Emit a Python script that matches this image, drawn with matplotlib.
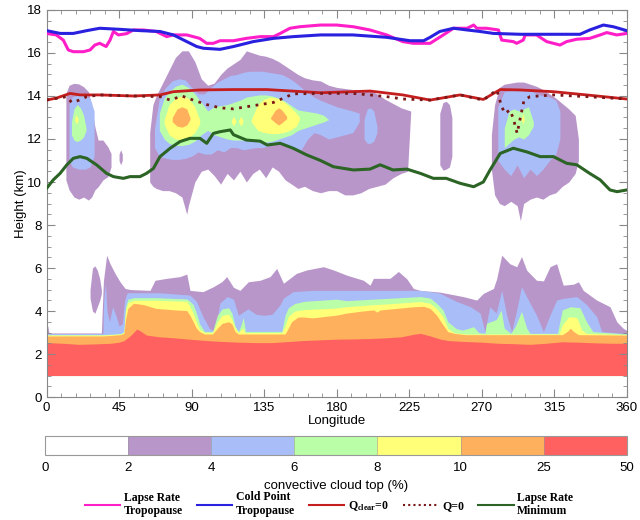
import matplotlib

matplotlib.use("Agg")

import matplotlib as mpl
import matplotlib.pyplot as plt
from matplotlib.colors import BoundaryNorm, ListedColormap
from matplotlib.font_manager import FontProperties
from matplotlib.lines import Line2D
from matplotlib.ticker import MultipleLocator

plt.rcParams["font.family"] = ["Liberation Sans", "DejaVu Sans"]
plt.rcParams["mathtext.fontset"] = "custom"
plt.rcParams["mathtext.rm"] = "Liberation Serif:bold"
plt.rcParams["mathtext.it"] = "Liberation Serif:bold"

# ---- colour classes of convective cloud-top frequency (%) ----
cloud_levels = [0, 2, 4, 6, 8, 10, 25, 50]
cloud_colors = ["#ffffff", "#b996c9", "#a9bef9", "#baffa8", "#ffff78", "#ffb05c", "#ff6060"]
cloud_base_km = 1.0

# ---- shallow / congestus layer: top height of each class (km) ----
red_lon = [0, 10, 20, 30, 40, 45, 48, 52, 56, 58, 62, 70, 78, 90, 100, 110, 120, 130, 140, 150,
           160, 170, 180, 190, 200, 210, 220, 228, 232, 238, 245, 250, 260, 270, 280, 290, 300,
           310, 320, 330, 340, 350, 360]
red_top = [2.53, 2.5, 2.45, 2.47, 2.5, 2.55, 2.62, 2.85, 3.16, 3.08, 2.88, 2.8, 2.76, 2.68, 2.62,
           2.58, 2.55, 2.53, 2.53, 2.58, 2.63, 2.66, 2.69, 2.7, 2.72, 2.75, 2.8, 2.92, 2.96, 2.84,
           2.68, 2.62, 2.58, 2.55, 2.5, 2.48, 2.45, 2.5, 2.57, 2.55, 2.52, 2.5, 2.5]

orange_lon = [0, 35, 46, 48, 49, 50.5, 54, 60, 68, 80, 87, 89, 91, 93, 95, 98, 103, 106, 109, 113,
              115, 117, 119, 148, 150, 152, 156, 160, 165, 172, 180, 186, 196, 203, 205, 207, 217,
              228, 234, 238, 242, 246, 249, 253, 260, 320, 323, 325, 327, 330, 360]
orange_top = [2.84, 2.84, 2.9, 2.96, 3.6, 4.12, 4.36, 4.3, 4.12, 4.05, 4.02, 3.8, 3.5, 3.2, 3.04,
              2.93, 2.93, 3.2, 3.43, 3.5, 3.4, 3.04, 2.93, 2.93, 3.2, 3.5, 3.72, 3.72, 3.68, 3.74,
              3.81, 3.9, 4.0, 4.05, 3.95, 4.05, 4.12, 4.2, 4.22, 4.12, 3.81, 3.35, 3.04, 2.96, 2.9,
              2.9, 3.05, 3.2, 3.05, 2.9, 2.88]

yellow_lon = [0, 35, 46, 48, 49, 50.5, 54, 68, 87, 89, 91, 93, 95, 98, 103, 106, 109, 113, 115, 117,
              119, 121, 122, 123, 146, 148, 150, 154, 160, 170, 180, 186, 200, 217, 232, 238, 242,
              246, 249, 253, 260, 318, 320, 324, 329, 332, 335, 360]
yellow_top = [2.88, 2.88, 2.93, 3.0, 4.0, 4.4, 4.5, 4.5, 4.45, 4.2, 3.9, 3.5, 3.15, 3.0, 3.0, 3.5,
              3.8, 3.85, 3.6, 3.2, 3.0, 3.15, 3.2, 3.0, 3.0, 3.3, 3.75, 4.0, 4.07, 4.1, 4.14, 4.2,
              4.28, 4.36, 4.44, 4.36, 4.12, 3.74, 3.19, 2.99, 2.93, 2.93, 3.35, 3.74, 3.7, 3.12,
              2.96, 2.9]

green_lon = [0, 35, 46, 48, 49, 50.5, 54, 68, 87, 89, 91, 93, 95, 98, 103, 106, 109, 113, 115, 117,
             119, 120.5, 122, 123.5, 146, 148, 150, 154, 160, 170, 180, 186, 200, 232, 238, 242,
             246, 249, 254, 258, 262, 265, 268, 272, 273, 279, 282, 284, 288, 291, 294.7, 297.9,
             300, 317, 320, 325, 331, 335, 339, 360]
green_top = [2.9, 2.9, 2.95, 3.05, 4.2, 4.55, 4.62, 4.62, 4.56, 4.45, 4.3, 3.9, 3.4, 3.05, 3.05,
             3.8, 4.1, 4.15, 3.9, 3.3, 3.05, 3.3, 3.7, 3.05, 3.05, 3.8, 4.15, 4.35, 4.45, 4.5, 4.55,
             4.48, 4.54, 4.67, 4.6, 4.36, 4.05, 3.5, 3.19, 3.11, 3.2, 3.27, 3.0, 2.96, 3.43, 3.6,
             4.05, 3.2, 2.96, 3.3, 3.98, 3.2, 2.96, 2.96, 4.05, 4.2, 4.15, 3.5, 3.04, 2.93]

blue_lon = [0, 35, 35.5, 36.5, 37.5, 39, 41, 43, 45, 47, 48.5, 50, 70, 89, 93, 97, 101, 104.5,
            107.5, 112, 116, 119, 121, 125, 130, 135, 140, 145, 147, 153, 165, 180, 207, 232, 238,
            244, 254.5, 263, 269, 272, 275, 279, 282.4, 285.5, 288.6, 291.7, 294.7, 300, 304,
            308.3, 312.4, 316.5, 320.6, 329, 335, 341.3, 344.5, 360]
blue_top = [2.95, 2.95, 4.5, 5.29, 4.0, 3.5, 4.2, 3.8, 3.3, 3.4, 4.5, 4.85, 4.85, 4.74, 4.45, 3.74,
            3.2, 3.04, 4.36, 4.67, 4.55, 3.8, 3.9, 4.1, 3.85, 3.8, 3.85, 4.3, 4.6, 4.9, 4.96, 4.96,
            4.96, 4.96, 4.9, 4.83, 4.44, 4.2, 3.9, 3.04, 4.2, 3.9, 4.96, 3.8, 3.04, 4.05, 5.13,
            4.36, 3.8, 3.04, 3.81, 4.51, 4.59, 4.67, 4.3, 3.74, 3.04, 2.95]

purple_lon = [0, 0.8, 1.5, 34, 35.3, 37.3, 39.4, 42.5, 45.6, 48.7, 51.8, 64.2, 67.3, 74.6, 82.8,
              87, 89, 97, 103.5, 108.7, 111.8, 116, 120, 125.2, 132.5, 138.7, 142.8, 147, 155,
              161.4, 171.8, 178, 186.2, 196.6, 200.7, 202.8, 213.1, 218.3, 223.5, 227.6, 231.7,
              244, 258.6, 266.9, 271, 277.3, 279.3, 282.4, 287.4, 291.7, 294.7, 297.9, 304, 308.3,
              312.4, 316.5, 320.6, 327, 330, 333, 341.3, 349.6, 353.8, 357.9, 360]
purple_top = [3.3, 3.3, 2.98, 2.98, 5.4, 6.6, 6.2, 5.75, 5.36, 5.05, 5.0, 4.96, 5.43, 5.52, 5.6,
              5.72, 4.96, 4.9, 5.13, 5.36, 5.6, 5.1, 4.96, 5.36, 5.43, 5.6, 5.98, 5.29, 5.75, 5.91,
              6.06, 5.91, 5.67, 5.43, 5.2, 5.52, 5.52, 5.84, 5.5, 5.05, 4.96, 4.88, 4.67, 4.51,
              4.82, 5.05, 5.5, 6.6, 6.2, 6.06, 6.53, 5.9, 5.43, 5.4, 6.06, 6.2, 5.2, 5.25, 5.36,
              4.96, 4.51, 4.2, 3.5, 3.19, 3.1]

# detached low-level purple patch near 30E
purple_patch_lon = [27, 28.5, 30, 31.5, 33, 34]
purple_patch_top = [5.0, 6.0, 6.1, 5.9, 5.5, 5.0]
purple_patch_bot = [4.6, 4.0, 3.9, 4.2, 4.5, 4.8]

# ---- deep convective layer: blobs given as (lon, bottom, top) in km ----
upper_purple = [
    ([12, 14, 17, 20, 23, 26, 28, 30, 32, 35, 38, 40],
     [10.1, 9.63, 9.3, 9.2, 9.3, 9.16, 9.3, 9.63, 9.78, 10.1, 10.25, 10.7],
     [14.12, 14.5, 14.59, 14.56, 14.43, 14.2, 13.5, 12.57, 11.95, 11.95, 11.64, 11.33]),
    ([45, 46, 47], [11.0, 10.8, 11.0], [11.3, 11.5, 11.3]),
    ([64, 66, 68, 72, 76, 80, 84, 87, 88, 92, 96, 100, 104, 108, 112, 116, 120, 124, 128, 132,
      136, 140, 144, 148, 152, 156, 160, 165, 170, 175, 180, 185, 190, 195, 200, 205, 210, 215,
      220, 224, 226],
     [10.0, 9.8, 9.7, 9.6, 9.6, 9.5, 9.3, 8.5, 8.9, 10.0, 10.5, 10.6, 10.3, 9.9, 10.4, 10.1,
      10.5, 10.0, 10.4, 10.6, 10.2, 10.7, 10.5, 10.1, 9.9, 9.7, 9.8, 9.6, 9.5, 9.6, 9.6, 9.4,
      9.4, 9.5, 9.7, 9.8, 9.9, 10.2, 10.4, 10.5, 13.3],
     [12.3, 13.6, 14.0, 14.6, 15.2, 15.8, 16.1, 16.1, 16.1, 15.6, 14.8, 14.5, 14.6, 15.0, 15.3,
      15.5, 15.7, 16.1, 16.0, 15.9, 15.85, 15.75, 15.6, 15.4, 15.2, 15.0, 14.85, 14.75, 14.7,
      14.5, 14.4, 14.35, 14.3, 14.3, 14.28, 14.1, 13.85, 13.65, 13.45, 13.35, 13.3]),
    ([244, 246, 248, 250, 251.5], [10.8, 10.55, 10.6, 10.7, 11.2], [13.2, 13.7, 13.75, 13.6, 13.0]),
    ([276, 278, 281, 284, 288, 292, 294, 296, 300, 304, 308, 312, 316, 320, 324, 328, 330],
     [10.6, 9.4, 9.0, 8.9, 9.1, 8.9, 8.2, 9.0, 9.2, 9.3, 9.2, 9.4, 9.5, 9.8, 10.0, 10.4, 11.0],
     [12.2, 13.6, 14.4, 14.55, 14.6, 14.65, 14.65, 14.65, 14.55, 14.45, 14.3, 14.1, 13.9, 13.65,
      13.4, 13.1, 12.0]),
]
upper_blue = [
    ([14, 16, 20, 24, 27, 29.5], [11.0, 10.7, 10.6, 10.6, 10.7, 11.2],
     [13.6, 13.97, 14.05, 14.0, 13.9, 13.3]),
    ([67, 70, 74, 78, 82, 86, 90, 94, 98, 102, 106, 110, 114, 118, 122, 126, 130, 134, 138, 142,
      146, 150, 154, 158, 162, 166, 170, 175, 180, 185, 190, 194],
     [11.6, 11.2, 11.1, 11.05, 11.05, 11.1, 11.2, 11.4, 11.3, 11.3, 11.5, 11.4, 11.6, 11.6, 11.5,
      11.55, 11.6, 11.6, 11.7, 11.8, 11.8, 11.7, 11.6, 11.5, 12.0, 12.3, 12.2, 12.0, 12.1, 12.2,
      12.3, 12.8],
     [12.5, 13.9, 14.4, 14.7, 14.8, 14.75, 14.4, 14.1, 14.1, 14.4, 14.65, 14.8, 14.95, 15.0, 15.1,
      15.15, 15.15, 15.15, 15.1, 15.05, 15.0, 14.85, 14.65, 14.4, 14.15, 13.95, 13.8, 13.65, 13.5,
      13.4, 13.3, 13.2]),
    ([197, 199, 201, 203, 205], [12.0, 11.8, 11.8, 11.9, 12.3], [12.9, 13.4, 13.45, 13.3, 12.6]),
    ([280, 284, 288, 292, 296, 300, 304, 308, 312, 316, 318.5],
     [11.0, 10.6, 10.3, 10.8, 10.2, 10.6, 10.3, 10.6, 11.0, 11.3, 12.0],
     [13.5, 14.2, 14.25, 14.3, 14.3, 14.25, 14.1, 14.0, 13.95, 13.8, 13.3]),
]
upper_green = [
    ([15.5, 17, 19, 21, 23, 24.5], [12.2, 11.95, 11.88, 11.95, 12.1, 12.4],
     [12.8, 13.4, 13.6, 13.45, 13.1, 12.5]),
    ([70, 73, 76, 80, 84, 88, 92, 96, 100, 104, 108, 112, 116, 120, 124, 128, 132, 136, 140, 144,
      148, 152, 156, 160, 164, 168, 172, 175],
     [12.4, 12.0, 11.8, 11.7, 11.7, 11.75, 11.9, 12.2, 12.4, 12.2, 12.1, 12.0, 11.95, 11.95,
      11.95, 11.9, 11.85, 11.85, 11.9, 12.0, 12.1, 12.2, 12.4, 12.5, 12.6, 12.7, 12.8, 12.9],
     [13.2, 13.9, 14.2, 14.45, 14.55, 14.4, 14.1, 13.7, 13.3, 13.5, 13.55, 13.6, 13.7, 13.8,
      13.95, 14.0, 14.05, 14.05, 14.0, 13.9, 13.75, 13.55, 13.35, 13.3, 13.25, 13.2, 13.1, 12.9]),
    ([284, 287, 290, 293, 296, 299, 302], [11.6, 11.8, 12.0, 12.1, 12.0, 12.2, 12.6],
     [12.5, 13.3, 13.4, 13.3, 13.4, 13.5, 12.8]),
]
upper_yellow = [
    ([17.5, 18.5, 19.5], [12.85, 12.7, 12.85], [12.95, 13.15, 12.95]),
    ([73, 76, 80, 84, 88, 92, 95], [12.7, 12.2, 12.0, 11.95, 12.05, 12.3, 12.7],
     [12.9, 13.6, 13.9, 14.0, 13.9, 13.5, 12.9]),
    ([114.5, 116, 117.5], [12.83, 12.6, 12.83], [12.83, 13.06, 12.83]),
    ([119, 120.5, 122], [12.83, 12.6, 12.83], [12.83, 13.06, 12.83]),
    ([127, 131, 135, 139, 143, 147, 151, 155, 157], [12.8, 12.4, 12.3, 12.25, 12.25, 12.3, 12.4, 12.6, 12.9],
     [12.9, 13.6, 13.85, 13.95, 13.9, 13.75, 13.5, 13.2, 13.0]),
    ([294.5, 295.5, 296.5], [12.9, 12.7, 12.9], [12.9, 13.2, 12.9]),
]
upper_orange = [
    ([78, 81, 84, 87, 89], [12.8, 12.6, 12.55, 12.65, 12.9], [13.0, 13.4, 13.5, 13.4, 13.0]),
    ([139, 142, 144, 146, 149], [12.95, 12.75, 12.65, 12.75, 12.95], [13.0, 13.35, 13.45, 13.35, 13.05]),
]

# ---- diagnostic heights (km) ----
lrt_lon = [0, 6, 10.4, 13.5, 16.6, 22.9, 27, 30, 33, 37, 39.4, 41.5, 44.6, 49.7, 53.9, 60, 68, 74.6,
           78.7, 87, 95, 99.4, 103.5, 107.7, 116, 124, 132.5, 140.8, 145, 151, 157, 170, 180,
           190.4, 200.7, 211, 221, 227.6, 238, 246.2, 252.5, 261, 265, 267, 273, 280.4, 282.4,
           289.6, 291.7, 295.8, 297, 304, 310.3, 318.6, 322.7, 329, 337, 343.5, 347.6, 353.8, 360]
lrt_h = [16.91, 16.84, 16.6, 16.14, 16.06, 16.06, 16.14, 16.37, 16.45, 16.3, 16.6, 17.0, 16.84,
         16.9, 17.07, 17.07, 17.0, 16.76, 16.84, 16.84, 16.68, 16.45, 16.45, 16.57, 16.57, 16.68,
         16.76, 16.76, 16.91, 17.15, 17.22, 17.3, 17.3, 17.22, 17.07, 16.84, 16.53, 16.45, 16.45,
         16.84, 17.15, 17.15, 17.3, 17.15, 17.15, 17.07, 16.6, 16.53, 16.45, 16.6, 16.84, 16.84,
         16.53, 16.37, 16.53, 16.64, 16.68, 16.84, 16.95, 16.84, 16.91]

cpt_lon = [0, 8.4, 16.6, 25, 33, 45.6, 58, 70.4, 78.7, 87, 93.2, 97.3, 107.7, 116, 128.3, 140.8,
           153, 170, 190, 211, 225.5, 234, 238, 244, 252.5, 261, 269, 277.3, 294, 314.5, 331, 337,
           345.5, 351.7, 360]
cpt_h = [17.04, 16.91, 16.91, 17.04, 17.15, 17.1, 17.04, 17.0, 16.84, 16.53, 16.3, 16.22, 16.17,
         16.3, 16.53, 16.68, 16.76, 16.84, 16.84, 16.73, 16.57, 16.57, 16.73, 17.0, 17.15, 17.07,
         17.0, 16.91, 16.87, 16.87, 16.87, 17.07, 17.3, 17.22, 17.04]

qclear_lon = [0, 6, 14.6, 20.8, 33, 54, 70.4, 78.7, 95, 116, 136.6, 170, 200.7, 221, 238, 256.6,
              271, 281.5, 294, 314.5, 335, 360]
qclear_h = [13.81, 13.9, 14.12, 14.05, 14.05, 14.0, 14.05, 14.2, 14.28, 14.3, 14.3, 14.15, 14.23,
            14.05, 13.81, 14.05, 13.84, 14.3, 14.28, 14.2, 14.05, 13.86]

q0_lon = [0, 12.5, 15.6, 20, 25, 33, 54, 70.4, 76.7, 84, 91, 99.4, 107.7, 116, 124, 132.5, 140.8,
          147, 153, 170, 190, 200.7, 211, 221, 238, 256.6, 271, 279.4, 282.4, 284.5, 287.5, 289.6,
          292, 294, 296.3, 300, 314.5, 335, 360]
q0_h = [13.81, 13.97, 13.7, 13.8, 13.97, 14.05, 14.0, 13.97, 13.81, 14.0, 13.81, 13.6, 13.45,
        13.4, 13.5, 13.6, 13.7, 13.9, 14.1, 14.12, 14.12, 14.05, 13.97, 13.86, 13.81, 14.05, 13.81,
        14.28, 13.5, 13.19, 13.35, 12.96, 12.26, 13.0, 13.81, 13.97, 14.05, 13.97, 13.86]

lrm_lon = [0, 4.2, 8.4, 12.5, 16.6, 20.8, 25, 31, 37.3, 41.5, 47.7, 51.8, 58, 62, 66.3, 70.4, 76.7,
           82.8, 89, 95.2, 99.4, 103.5, 107.7, 114, 116, 124, 132.5, 137, 145, 153, 161.4, 170,
           178, 190.4, 200.7, 207, 215, 223.5, 232, 240, 248, 256.6, 265, 271, 275.2, 281.5,
           289.6, 298, 306.3, 314.5, 322.7, 329, 337, 343.5, 349.6, 354, 360]
lrm_h = [9.7, 10.1, 10.4, 10.79, 11.1, 11.18, 11.1, 10.8, 10.4, 10.25, 10.17, 10.25, 10.25, 10.4,
         10.63, 11.18, 11.57, 11.88, 12.03, 12.03, 11.8, 12.26, 12.34, 12.42, 12.2, 11.95, 11.9,
         11.72, 11.8, 11.57, 11.26, 11.0, 10.71, 10.56, 10.6, 10.8, 10.56, 10.6, 10.4, 10.17,
         10.17, 9.94, 9.78, 10.0, 10.56, 11.33, 11.57, 11.4, 11.18, 11.18, 10.87, 10.8, 10.4,
         10.1, 9.63, 9.55, 9.63]

fig = plt.figure(figsize=(6.4, 5.2), dpi=100)
ax = fig.add_axes([0.0727, 0.2365, 0.9066, 0.7443])

purple, blue, green, yellow, orange, red = cloud_colors[1:]
fill_kw = dict(linewidth=0, antialiased=True)

# low layer, stacked from the cloud base up
for lon, top, col in [(purple_lon, purple_top, purple), (blue_lon, blue_top, blue),
                      (green_lon, green_top, green), (yellow_lon, yellow_top, yellow),
                      (orange_lon, orange_top, orange), (red_lon, red_top, red)]:
    ax.fill_between(lon, cloud_base_km, top, color=col, **fill_kw)
ax.fill_between(purple_patch_lon, purple_patch_bot, purple_patch_top, color=purple, **fill_kw)

# upper layer blobs
for blobs, col in [(upper_purple, purple), (upper_blue, blue), (upper_green, green),
                   (upper_yellow, yellow), (upper_orange, orange)]:
    for lon, bot, top in blobs:
        ax.fill_between(lon, bot, top, color=col, **fill_kw)

ax.plot(lrt_lon, lrt_h, color="#ff1ec8", lw=2.2, zorder=5)
ax.plot(cpt_lon, cpt_h, color="#2a20e0", lw=2.2, zorder=5)
ax.plot(qclear_lon, qclear_h, color="#c41e1e", lw=2.0, zorder=5)
ax.plot(q0_lon, q0_h, color="#7a1818", lw=2.0, ls=(0, (1, 2)), zorder=6)
ax.plot(lrm_lon, lrm_h, color="#2b6424", lw=2.2, zorder=5)

ax.set_xlim(0, 360)
ax.set_ylim(0, 18)
ax.xaxis.set_major_locator(MultipleLocator(45))
ax.xaxis.set_minor_locator(MultipleLocator(9))
ax.yaxis.set_major_locator(MultipleLocator(2))
ax.yaxis.set_minor_locator(MultipleLocator(0.5))
ax.tick_params(which="both", direction="in", top=True, right=True, color="#888888", labelsize=9.5)
ax.tick_params(which="major", length=6)
ax.tick_params(which="minor", length=3)
for sp in ax.spines.values():
    sp.set_color("#888888")
ax.set_xlabel("Longitude", fontsize=9.5, labelpad=1)
ax.set_ylabel("Height (km)", fontsize=9.5, labelpad=0)

# colour bar with equal-width classes
cax = fig.add_axes([0.0703, 0.125, 0.909, 0.036])
cmap = ListedColormap(cloud_colors)
norm = BoundaryNorm(cloud_levels, cmap.N)
cb = mpl.colorbar.ColorbarBase(cax, cmap=cmap, norm=norm, orientation="horizontal",
                               spacing="uniform", ticks=cloud_levels, drawedges=True)
cb.outline.set_edgecolor("#999999")
cb.dividers.set_color("#999999")
cb.ax.tick_params(length=0, labelsize=9.5, pad=5)
cb.set_label("convective cloud top (%)", fontsize=9.5, labelpad=4)

handles = [Line2D([], [], color="#ff1ec8", lw=1.5),
           Line2D([], [], color="#2a20e0", lw=1.5),
           Line2D([], [], color="#c41e1e", lw=1.5),
           Line2D([], [], color="#7a1818", lw=1.5, ls=(0, (1, 1.5))),
           Line2D([], [], color="#2b6424", lw=1.5)]
labels = ["Lapse Rate\nTropopause", "Cold Point\nTropopause", r"Q$_{\rm clear}$=0", "Q=0",
          "Lapse Rate\nMinimum"]
fig.legend(handles, labels, loc="center", bbox_to_anchor=(0.514, 0.03), ncol=5, frameon=False,
           prop=FontProperties(family="Liberation Serif", weight="bold", size=8.5),
           handlelength=3.0, handletextpad=0.3, columnspacing=1.2)

fig.savefig("out.png", dpi=100)
